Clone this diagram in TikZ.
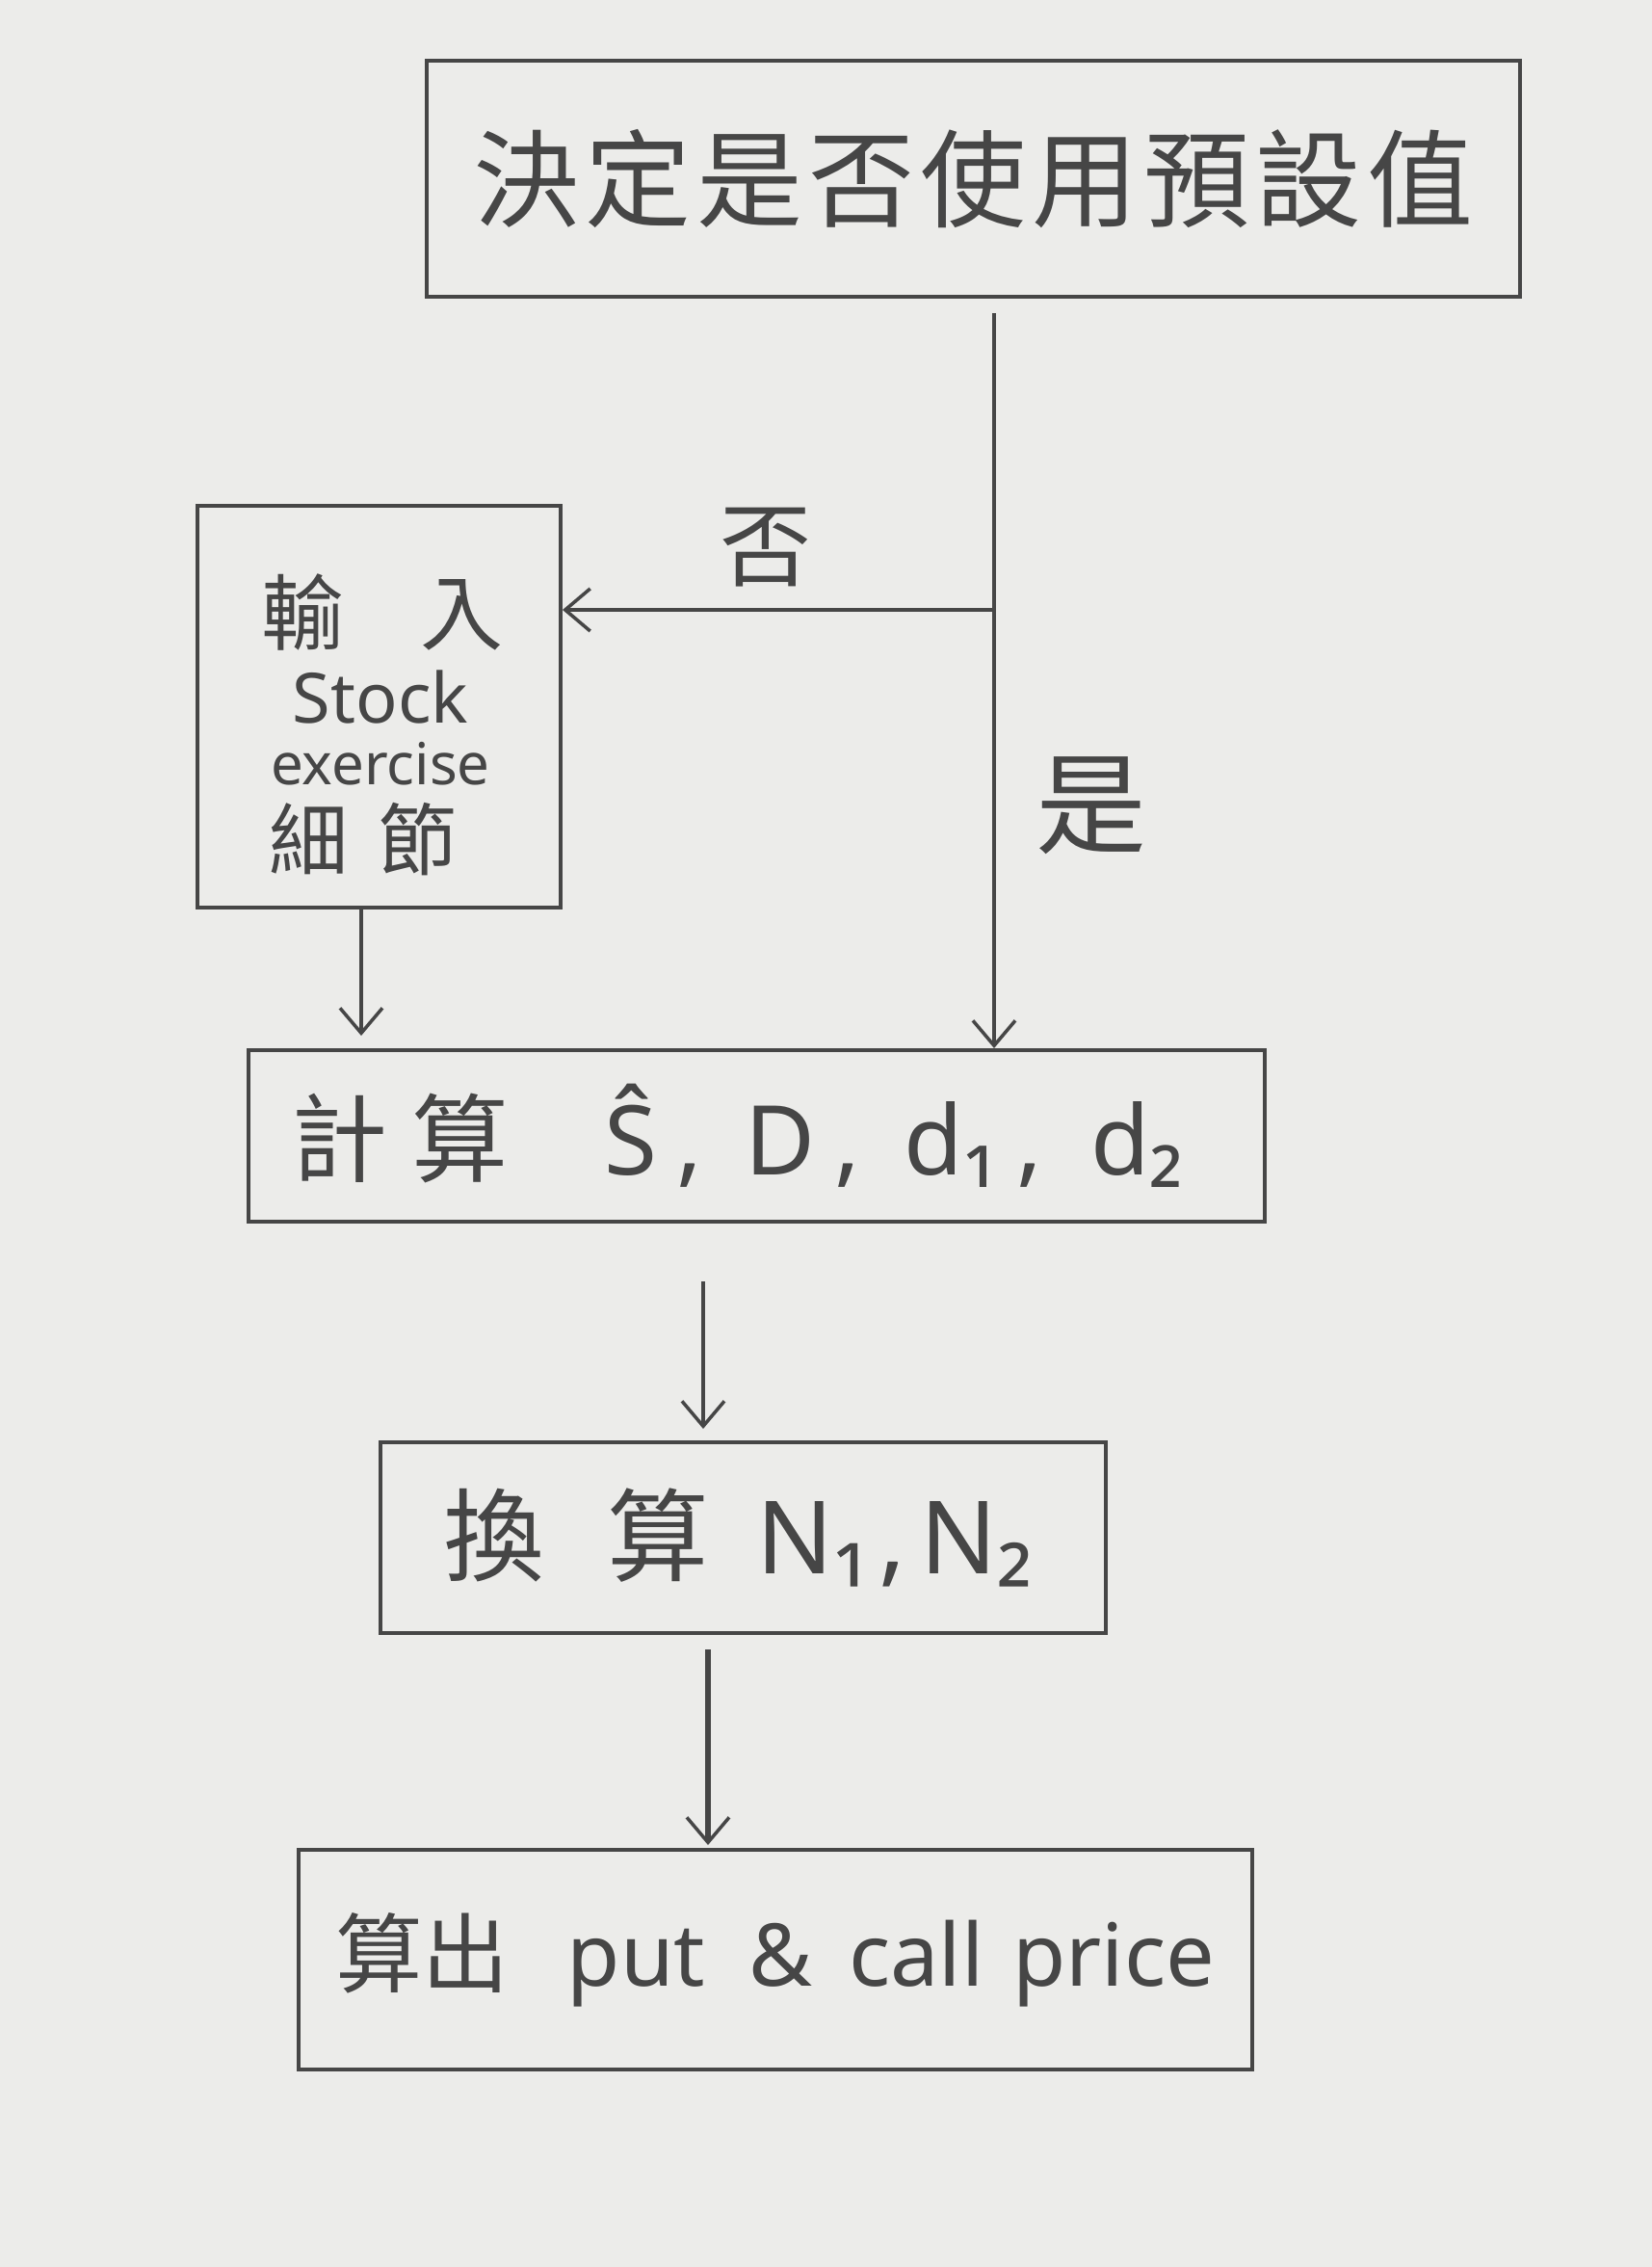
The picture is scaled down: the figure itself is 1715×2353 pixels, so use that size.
\documentclass[tikz,border=0pt]{standalone}
\usepackage{fontspec}
\setmainfont{Noto Sans}
\newfontfamily\cjk{Noto Sans CJK TC}
\usetikzlibrary{arrows.meta}
\definecolor{paper}{HTML}{ECECEA}
\definecolor{pencil}{HTML}{464646}
\tikzset{
  box/.style={draw=pencil, line width=4pt, rectangle, inner sep=0pt, text=pencil, align=center},
  flow/.style={draw=pencil, line width=3.5pt, -{Straight Barb[length=26pt,width=44pt,line width=3.5pt]}},
  lbl/.style={text=pencil, inner sep=0pt},
  cjkline/.style={lbl, anchor=base, text height=70pt, text depth=8pt},
  latline/.style={lbl, anchor=base, text depth=0pt}
}
\begin{document}
\begin{tikzpicture}[x=1pt,y=-1pt]
\fill[paper] (0,0) rectangle (1715,2353);
\useasboundingbox (0,0) rectangle (1715,2353);

\node[box, minimum width=1135pt, minimum height=245pt] (top) at (1010.5,185.5)
  {\cjk\fontsize{110}{120}\selectfont 決\hspace{6pt}定\hspace{6pt}是\hspace{6pt}否\hspace{6pt}使\hspace{6pt}用\hspace{6pt}預\hspace{6pt}設\hspace{6pt}值};

\node[box, minimum width=377pt, minimum height=417pt] (left) at (393.5,733.5) {};
\node[cjkline] (in1) at (397,668) {\cjk\fontsize{86}{96}\selectfont 輸\hspace{80pt}入};
\node[latline, text height=52pt] (in2) at (395,750) {\fontsize{72}{80}\selectfont Stock};
\node[latline, text height=36pt] (in3) at (395,814) {\fontsize{60}{68}\selectfont exercise};
\node[cjkline] (in4) at (377,902) {\cjk\fontsize{82}{90}\selectfont 細\hspace{32pt}節};

\node[box, minimum width=1055pt, minimum height=178pt] (calc) at (785.5,1179)
  {\fontsize{100}{110}\selectfont {\cjk 計\hspace{25pt}算}\hspace{100pt}Ŝ\hspace{20pt},\hspace{45pt}D\hspace{20pt},\hspace{45pt}d₁\hspace{20pt},\hspace{50pt}d₂\hspace{40pt}};

\node[box, minimum width=753pt, minimum height=198pt] (conv) at (771.5,1596)
  {\fontsize{105}{115}\selectfont {\cjk 換\hspace{65pt}算}\hspace{50pt}N₁\hspace{10pt},\hspace{15pt}N₂\hspace{10pt}};

\node[box, minimum width=990pt, minimum height=228pt] (final) at (805,2034)
  {\fontsize{90}{100}\selectfont {\cjk 算出}\hspace{60pt}put\hspace{45pt}\&\hspace{38pt}call\hspace{30pt}price};

\coordinate (vx) at (1032,0);
\coordinate (lx) at (375,0);
\coordinate (mx) at (730,0);
\coordinate (nx) at (735,0);
\coordinate (br) at (1030,633);

\draw[flow] ([yshift=-15pt]vx |- top.south) -- (vx |- calc.north);
\draw[flow] (br) -- (left.east |- br);
\draw[flow] (lx |- left.south) -- ([yshift=13pt]lx |- calc.north);
\draw[flow] ([yshift=-60pt]mx |- calc.south) -- ([yshift=12pt]mx |- conv.north);
\draw[flow, line width=6pt] ([yshift=-15pt]nx |- conv.south) -- ([yshift=3pt]nx |- final.north);

\node[lbl] (no) at (795,568) {\cjk\fontsize{95}{100}\selectfont 否};
\node[lbl] (yes) at (1133,836) {\cjk\fontsize{115}{120}\selectfont 是};
\end{tikzpicture}
\end{document}
